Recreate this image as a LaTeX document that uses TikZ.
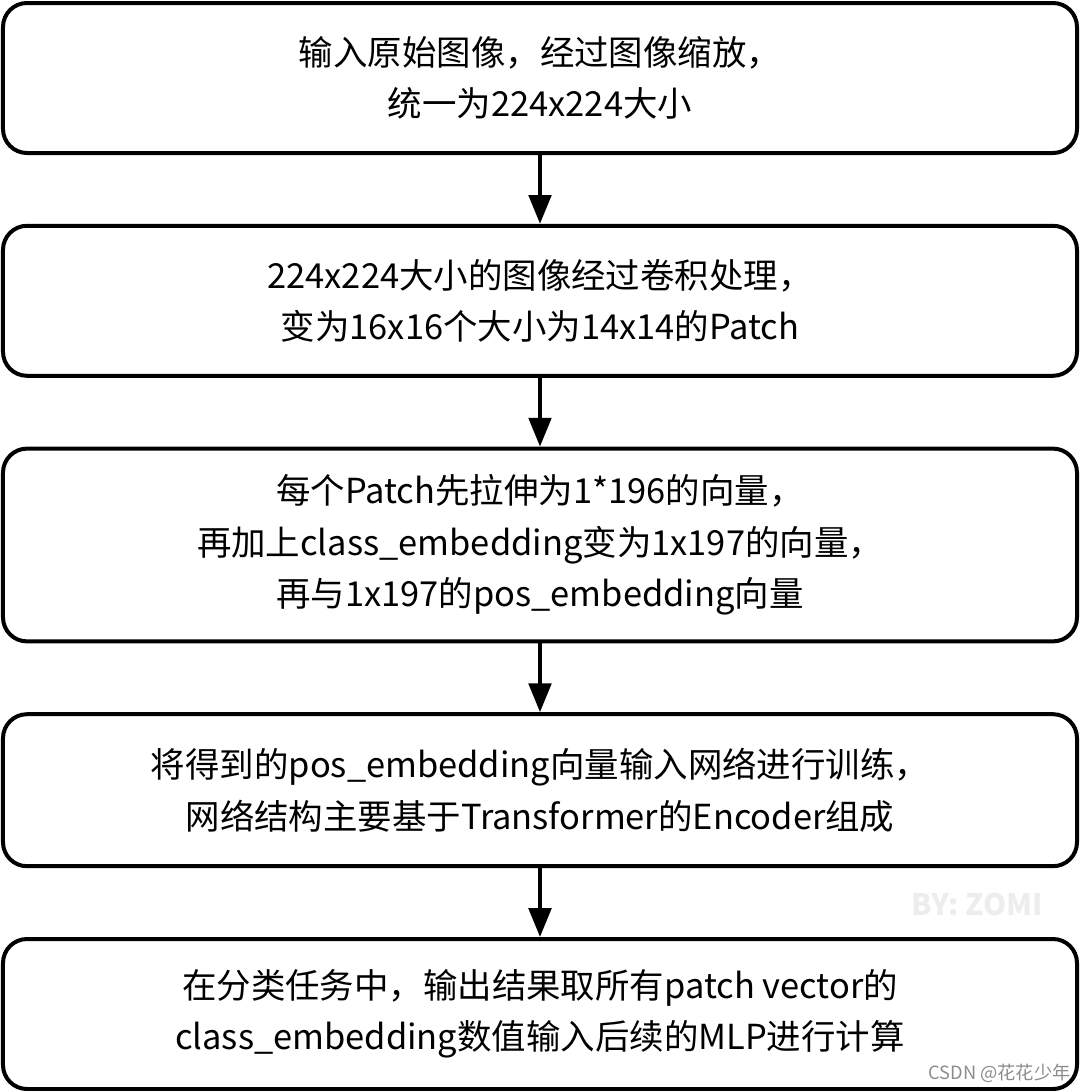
\documentclass[tikz,border=0pt]{standalone}
\usepackage{fontspec}
\usepackage{tikz}
\usetikzlibrary{arrows.meta,positioning}
\newfontfamily\cjk{Noto Sans CJK SC}

\begin{document}
\begin{tikzpicture}[node distance=1.72cm,>={Triangle[length=0.72cm,width=0.56cm]},
block/.style={draw=black,line width=0.1cm,rounded corners=0.6cm,align=center,minimum width=26.85cm,minimum height=3.75cm,inner sep=4pt,font=\cjk\fontsize{24.5}{36.5}\selectfont}]
\useasboundingbox (0,0) rectangle (27,-27.275);
\node[block] (a) at (13.5,-1.95) {输入原始图像，经过图像缩放，\\统一为224x224大小};
\node[block,below=of a] (b) {224x224大小的图像经过卷积处理，\\变为16x16个大小为14x14的Patch};
\node[block,below=of b,minimum height=4.82cm] (c) {每个Patch先拉伸为1*196的向量，\\再加上class\_embedding变为1x197的向量，\\再与1x197的pos\_embedding向量};
\node[block,below=of c,minimum height=3.8cm] (d) {将得到的pos\_embedding向量输入网络进行训练，\\网络结构主要基于Transformer的Encoder组成};
\node[block,below=of d] (e) {在分类任务中，输出结果取所有patch vector的\\class\_embedding数值输入后续的MLP进行计算};
\draw[->,line width=0.1cm] (a)--(b);\draw[->,line width=0.1cm] (b)--(c);\draw[->,line width=0.1cm] (c)--(d);\draw[->,line width=0.1cm] (d)--(e);
% watermarks
\node[font=\cjk\bfseries\fontsize{21}{21}\selectfont,text=black!7,above right=0.4cm and -4.3cm of e.north east] (wm) {BY: ZOMI};
\node[font=\cjk\fontsize{13}{13}\selectfont,text=black!45,anchor=south east,inner sep=0pt] (csdn) at ([xshift=-0.2cm,yshift=0.2cm]e.south east) {CSDN @花花少年};
\end{tikzpicture}
\end{document}
